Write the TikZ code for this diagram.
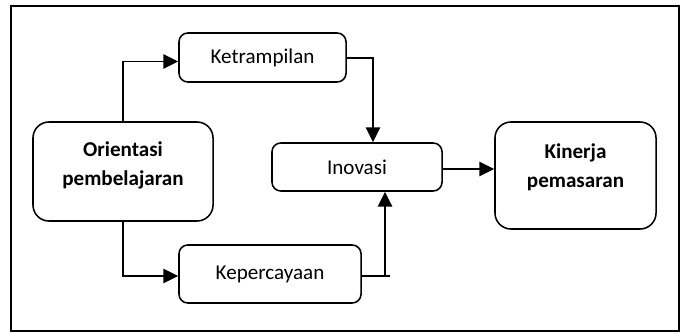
\documentclass[tikz,border=0pt]{standalone}
\usepackage{fontspec}
\setmainfont{Carlito}
\usetikzlibrary{arrows.meta,positioning}
\tikzset{ % common looks of the diagram
	smallbox/.style={draw, line width=1.1pt, rounded corners=2.2mm, align=center,
		font=\fontsize{15}{21}\selectfont},
	bigbox/.style={draw, line width=1.1pt, rounded corners=4mm, align=center,
		font=\fontsize{15}{21}\selectfont\bfseries},
	conn/.style={line width=1.1pt, -{Triangle[length=3.7mm,width=3.6mm]}},
	plainline/.style={line width=1.1pt}
}

\begin{document}
\begin{tikzpicture}[x=0.025cm,y=-0.025cm]
	\useasboundingbox (0,0) rectangle (688,334);
	% Frame
	\draw [line width=1pt] (11,6) rectangle (679,331);
	% Boxes
	\node (ori) [bigbox, text depth=11pt, minimum width=4.5cm, minimum height=2.475cm] at (123,171.5) {Orientasi\\pembelajaran};
	\node (ket) [smallbox, minimum width=4.175cm, minimum height=1.225cm] at (262.5,57.5) {Ketrampilan};
	\node (kep) [smallbox, minimum width=4.55cm, minimum height=1.45cm] at (270,274) {Kepercayaan};
	\node (ino) [smallbox, minimum width=4.25cm, minimum height=1.2cm] at (357,167) {Inovasi};
	\node (kin) [bigbox, text depth=14pt, minimum width=4.025cm, minimum height=2.675cm] at (575.5,175.5) {Kinerja\\pemasaran};
	% Connectors
	\draw [conn] (ori.north) |- ([yshift=-1mm]ket.west);
	\draw [conn] ([yshift=-0.1mm]ket.east) -| ([xshift=4mm]ino.north);
	\draw [conn] (ori.south) |- ([yshift=-0.5mm]kep.west);
	\coordinate (kj) at ([xshift=7mm,yshift=-0.5mm]kep.east -| ino.south);
	\draw [plainline] ([yshift=-0.5mm]kep.east) -- ([xshift=1.2mm]kj);
	\draw [conn] (kj) -- ([xshift=7mm]ino.south);
	\draw [conn] ([yshift=-0.5mm]ino.east) -- ([yshift=-0.5mm]ino.east -| kin.west);
\end{tikzpicture}
\end{document}
